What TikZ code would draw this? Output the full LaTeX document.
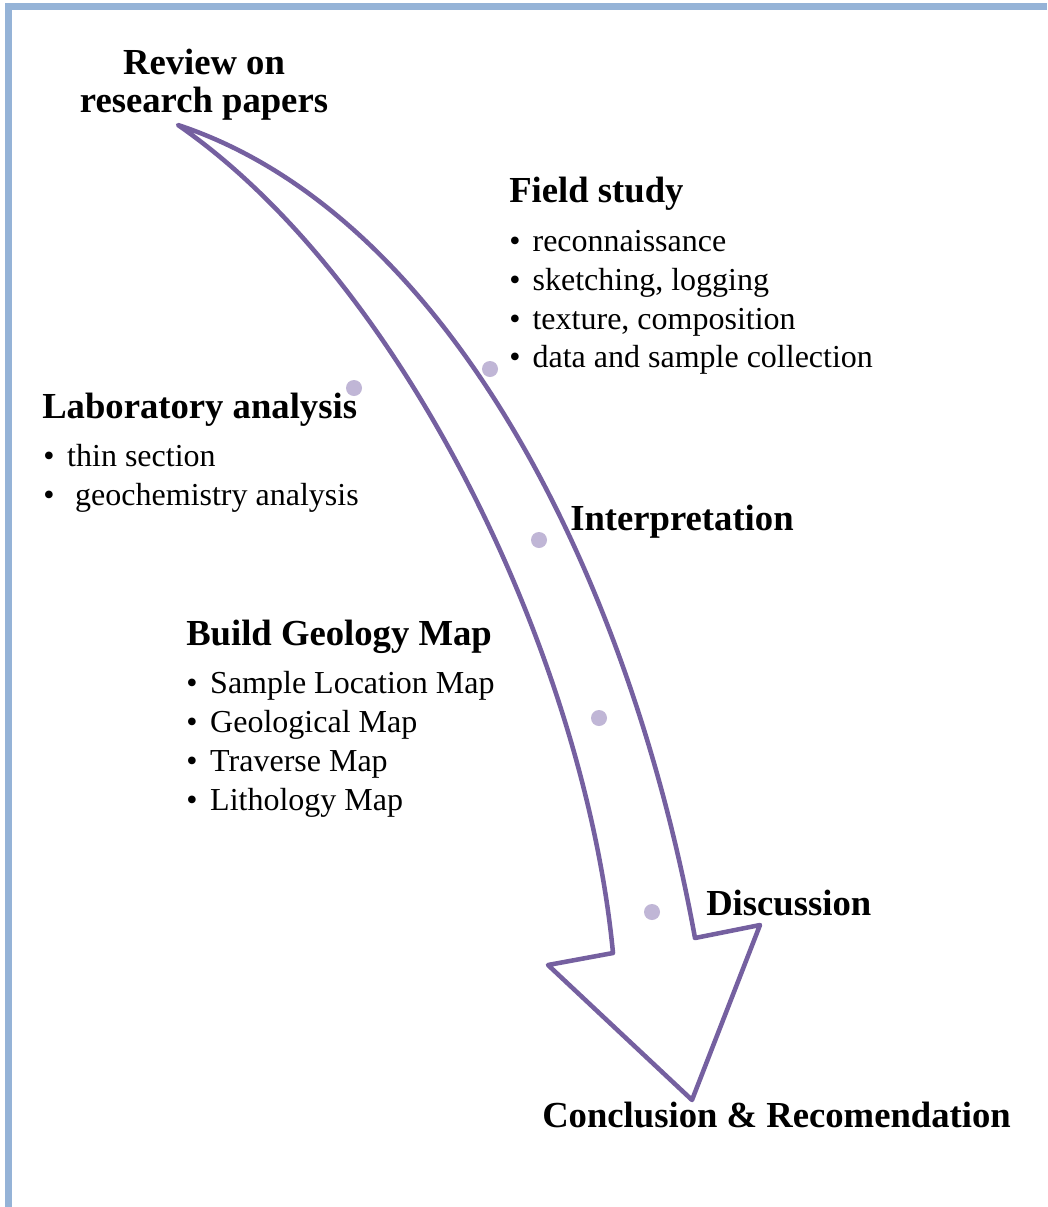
\documentclass[tikz,border=0pt]{standalone}
\usepackage{fontspec}
\setmainfont{Liberation Serif}
\definecolor{framecol}{HTML}{95B3D7}
\definecolor{arrowcol}{HTML}{7560A0}
\definecolor{dotcol}{HTML}{C0B6D6}
\begin{document}
\begin{tikzpicture}[x=0.75pt,y=-0.75pt,
  title/.style={font=\fontsize{27.5}{37}\selectfont\bfseries, inner sep=0pt, anchor=base west},
  titlec/.style={font=\fontsize{27.5}{37}\selectfont\bfseries, inner sep=0pt, anchor=base},
  body/.style={font=\fontsize{24}{29}\selectfont, inner sep=0pt, anchor=base west},
  dotmark/.style={circle, fill=dotcol, inner sep=0pt, minimum size=12pt},
  arrowline/.style={draw=arrowcol, line width=3.4pt, line join=round, fill=white},
  framebar/.style={draw=framecol, line width=5.25pt, line join=miter}]
\useasboundingbox (0,0) rectangle (1047,1207);
\fill[white] (0,0) rectangle (1047,1207);
% frame
\draw[framebar] (8.5,1207) -- (8.5,6.5) -- (1047,6.5);
% arrow outline
\coordinate (tail) at (178,125);
\coordinate (rs) at (695,938);
\coordinate (rb) at (760,925);
\coordinate (tip) at (692,1100);
\coordinate (lb) at (548,965);
\coordinate (ls) at (613,953);
\draw[arrowline] (tail) .. controls (450,215) and (630,580) .. (rs)
  -- (rb) -- (tip) -- (lb) -- (ls)
  .. controls (585,660) and (405,282) .. (tail) -- cycle;
% dots
\node[dotmark] (d1) at (354,388) {};
\node[dotmark] (d2) at (490,369) {};
\node[dotmark] (d3) at (539,540) {};
\node[dotmark] (d4) at (599,718) {};
\node[dotmark] (d5) at (652,912) {};
% texts
\node[titlec] (review1) at (204,74) {Review on};
\node[titlec] (review2) at (204,112) {research papers};
\node[title] (field) at (509,202) {Field study};
\node[body] (f1) at (509,251) {\makebox[17.5pt][l]{•}reconnaissance};
\node[body] (f2) at (509,290) {\makebox[17.5pt][l]{•}sketching, logging};
\node[body] (f3) at (509,329) {\makebox[17.5pt][l]{•}texture, composition};
\node[body] (f4) at (509,367) {\makebox[17.5pt][l]{•}data and sample collection};
\node[title] (lab) at (42,418) {Laboratory analysis};
\node[body] (l1) at (43,466) {\makebox[18pt][l]{•}thin section};
\node[body] (l2) at (43,505) {\makebox[24pt][l]{•}geochemistry analysis};
\node[title] (interp) at (570,530) {Interpretation};
\node[title] (build) at (186,645) {Build Geology Map};
\node[body] (b1) at (186,693) {\makebox[18pt][l]{•}Sample Location Map};
\node[body] (b2) at (186,732) {\makebox[18pt][l]{•}Geological Map};
\node[body] (b3) at (186,771) {\makebox[18pt][l]{•}Traverse Map};
\node[body] (b4) at (186,810) {\makebox[18pt][l]{•}Lithology Map};
\node[title] (disc) at (706,915) {Discussion};
\node[title] (concl) at (542,1127) {Conclusion \& Recomendation};
\end{tikzpicture}
\end{document}
